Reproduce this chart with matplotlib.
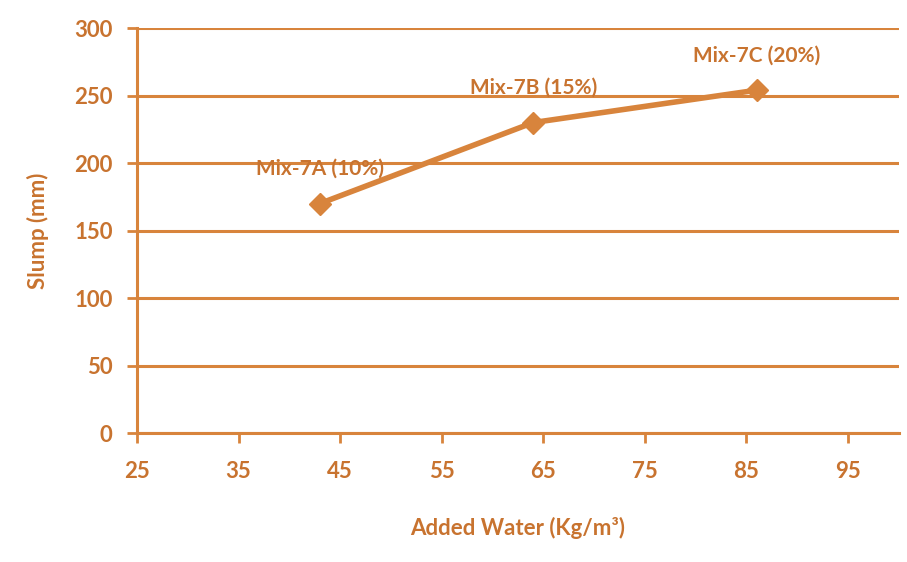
import matplotlib
matplotlib.use("Agg")
import matplotlib.pyplot as plt

water = [43, 64, 86]
slump = [170, 230, 254]
labels = ["Mix-7A (10%)", "Mix-7B (15%)", "Mix-7C (20%)"]
x_ticks = [25, 35, 45, 55, 65, 75, 85, 95]
y_ticks = [0, 50, 100, 150, 200, 250, 300]

C = "#D8843C"
TXT = "#C8732F"
plt.rcParams['font.family'] = ['Lato', 'DejaVu Sans']

fig = plt.figure(figsize=(9.07, 5.62), dpi=100)
ax = fig.add_axes([0.151, 0.2295, 0.840, 0.7205])
ax.set_xlim(25, 100)
ax.set_ylim(0, 300)
ax.set_xticks(x_ticks)
ax.set_yticks(y_ticks)
ax.yaxis.grid(True, color=C, linewidth=2.2)
ax.set_axisbelow(True)
for s in ["top", "right"]:
    ax.spines[s].set_visible(False)
for s in ["left", "bottom"]:
    ax.spines[s].set_color(C)
    ax.spines[s].set_linewidth(2.2)
ax.tick_params(axis="both", colors=C, width=2, length=7, labelsize=16, labelcolor=TXT)
ax.tick_params(axis="x", pad=13)
ax.tick_params(axis="y", pad=10.5)
for lab in ax.get_xticklabels() + ax.get_yticklabels():
    lab.set_fontweight("bold")

ax.plot(water, slump, color=C, linewidth=4, marker="D", markersize=11, zorder=3)
for x, y, t in zip(water, slump, labels):
    ax.annotate(t, (x, y), xytext=(0, 18), textcoords="offset points", ha="center",
                va="bottom", fontsize=15, fontweight="bold", color=TXT)

ax.set_xlabel("Added Water (Kg/m³)", fontsize=16, fontweight="bold", color=TXT, labelpad=25)
ax.set_ylabel("Slump (mm)", fontsize=16, fontweight="bold", color=TXT, labelpad=18)

fig.savefig("out.png", dpi=100)
